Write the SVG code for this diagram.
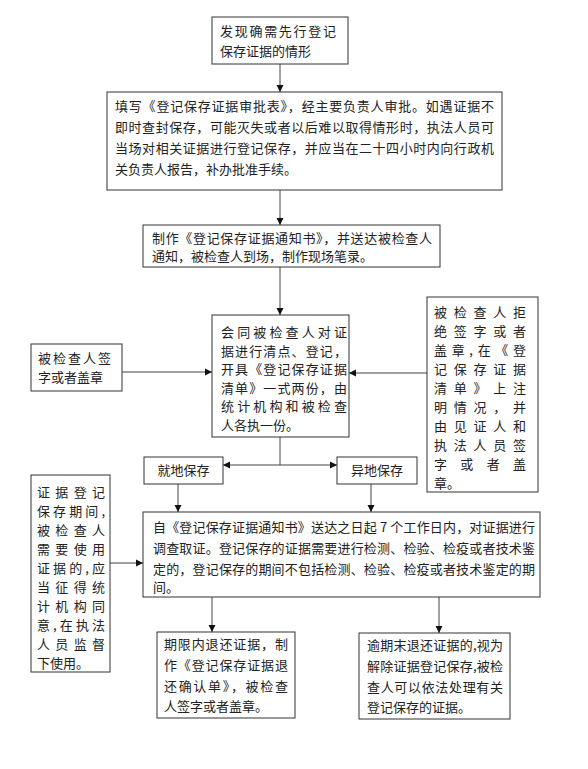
<svg xmlns="http://www.w3.org/2000/svg" width="588" height="769" viewBox="0 0 588 769">
<defs>
<marker id="ah" markerWidth="8" markerHeight="8" refX="7" refY="4" orient="auto" markerUnits="userSpaceOnUse">
<path d="M0,0.5 L7,4 L0,7.5 Z" fill="#111"/>
</marker>
<style>
.box{fill:#fff;stroke:#333;stroke-width:1}
.t{font-family:"Noto Sans CJK SC","Noto Sans",sans-serif;font-size:13px;fill:#222}
.c{stroke:#444;stroke-width:1;fill:none}
.a{stroke:#444;stroke-width:1;fill:none;marker-end:url(#ah)}
</style>
</defs>
<rect width="588" height="769" fill="#fff"/>
<g id="connectors">
<line class="a" x1="280" y1="64" x2="280" y2="92"/>
<line class="a" x1="280" y1="190" x2="280" y2="225"/>
<line class="a" x1="280" y1="267" x2="280" y2="315"/>
<line class="a" x1="122" y1="372" x2="212" y2="372"/>
<line class="a" x1="427" y1="373" x2="349" y2="373"/>
<line class="c" x1="280" y1="437" x2="280" y2="465"/>
<line class="a" x1="280" y1="465" x2="223" y2="465"/>
<line class="a" x1="280" y1="465" x2="337" y2="465"/>
<line class="a" x1="178" y1="484" x2="178" y2="512"/>
<line class="a" x1="371" y1="484" x2="371" y2="512"/>
<line class="a" x1="110" y1="563" x2="143" y2="563"/>
<line class="a" x1="212" y1="597" x2="212" y2="632"/>
<line class="a" x1="439" y1="597" x2="439" y2="633"/>
</g>
<g id="n1">
<rect class="box" x="212" y="17" width="136" height="47"/>
<text class="t" x="220" y="36" textLength="116" lengthAdjust="spacing">发现确需先行登记</text>
<text class="t" x="220" y="56">保存证据的情形</text>
</g>
<g id="n2">
<rect class="box" x="107" y="92" width="395" height="98"/>
<text class="t" x="115" y="111" textLength="379" lengthAdjust="spacing">填写《登记保存证据审批表》，经主要负责人审批。如遇证据不</text>
<text class="t" x="115" y="132" textLength="379" lengthAdjust="spacing">即时查封保存，可能灭失或者以后难以取得情形时，执法人员可</text>
<text class="t" x="115" y="153" textLength="379" lengthAdjust="spacing">当场对相关证据进行登记保存，并应当在二十四小时内向行政机</text>
<text class="t" x="115" y="174">关负责人报告，补办批准手续。</text>
</g>
<g id="n3">
<rect class="box" x="143" y="225" width="297" height="42"/>
<text class="t" x="152" y="243" textLength="280" lengthAdjust="spacing">制作《登记保存证据通知书》，并送达被检查人</text>
<text class="t" x="152" y="261">通知，被检查人到场，制作现场笔录。</text>
</g>
<g id="n4">
<rect class="box" x="212" y="315" width="137" height="122"/>
<text class="t" x="221" y="337" textLength="126" lengthAdjust="spacing">会同被检查人对证</text>
<text class="t" x="221" y="355.6" textLength="126" lengthAdjust="spacing">据进行清点、登记，</text>
<text class="t" x="221" y="374.2" textLength="126" lengthAdjust="spacing">开具《登记保存证据</text>
<text class="t" x="221" y="392.8" textLength="126" lengthAdjust="spacing">清单》一式两份，由</text>
<text class="t" x="221" y="411.4" textLength="126" lengthAdjust="spacing">统计机构和被检查</text>
<text class="t" x="221" y="430">人各执一份。</text>
</g>
<g id="n5">
<rect class="box" x="31" y="344" width="91" height="47"/>
<text class="t" x="38" y="363" textLength="73" lengthAdjust="spacing">被检查人签</text>
<text class="t" x="38" y="382">字或者盖章</text>
</g>
<g id="n6">
<rect class="box" x="427" y="297" width="111" height="195"/>
<text class="t" x="434" y="317" textLength="92" lengthAdjust="spacing">被检查人拒</text>
<text class="t" x="434" y="336" textLength="92" lengthAdjust="spacing">绝签字或者</text>
<text class="t" x="434" y="355" textLength="92" lengthAdjust="spacing">盖章,在《登</text>
<text class="t" x="434" y="374" textLength="92" lengthAdjust="spacing">记保存证据</text>
<text class="t" x="434" y="393" textLength="92" lengthAdjust="spacing">清单》上注</text>
<text class="t" x="434" y="412" textLength="92" lengthAdjust="spacing">明情况，并</text>
<text class="t" x="434" y="431" textLength="92" lengthAdjust="spacing">由见证人和</text>
<text class="t" x="434" y="450" textLength="92" lengthAdjust="spacing">执法人员签</text>
<text class="t" x="434" y="469" textLength="92" lengthAdjust="spacing">字或者盖</text>
<text class="t" x="434" y="488">章。</text>
</g>
<g id="n7">
<rect class="box" x="144" y="457" width="79" height="27"/>
<text class="t" x="183.5" y="475" text-anchor="middle">就地保存</text>
</g>
<g id="n8">
<rect class="box" x="337" y="457" width="80" height="27"/>
<text class="t" x="377" y="475" text-anchor="middle">异地保存</text>
</g>
<g id="n9">
<rect class="box" x="31" y="475" width="79" height="197"/>
<text class="t" x="37" y="497" textLength="68" lengthAdjust="spacing">证据登记</text>
<text class="t" x="37" y="516" textLength="68" lengthAdjust="spacing">保存期间,</text>
<text class="t" x="37" y="535" textLength="68" lengthAdjust="spacing">被检查人</text>
<text class="t" x="37" y="554" textLength="68" lengthAdjust="spacing">需要使用</text>
<text class="t" x="37" y="573" textLength="68" lengthAdjust="spacing">证据的,应</text>
<text class="t" x="37" y="592" textLength="68" lengthAdjust="spacing">当征得统</text>
<text class="t" x="37" y="611" textLength="68" lengthAdjust="spacing">计机构同</text>
<text class="t" x="37" y="630" textLength="68" lengthAdjust="spacing">意,在执法</text>
<text class="t" x="37" y="649" textLength="68" lengthAdjust="spacing">人员监督</text>
<text class="t" x="37" y="668">下使用。</text>
</g>
<g id="n10">
<rect class="box" x="143" y="512" width="397" height="85"/>
<text class="t" x="153" y="532" textLength="382" lengthAdjust="spacing">自《登记保存证据通知书》送达之日起 7 个工作日内，对证据进行</text>
<text class="t" x="153" y="553" textLength="382" lengthAdjust="spacing">调查取证。登记保存的证据需要进行检测、检验、检疫或者技术鉴</text>
<text class="t" x="153" y="574" textLength="382" lengthAdjust="spacing">定的，登记保存的期间不包括检测、检验、检疫或者技术鉴定的期</text>
<text class="t" x="153" y="592">间。</text>
</g>
<g id="n11">
<rect class="box" x="157" y="632" width="138" height="86"/>
<text class="t" x="164" y="649" textLength="124" lengthAdjust="spacing">期限内退还证据，制</text>
<text class="t" x="164" y="670" textLength="124" lengthAdjust="spacing">作《登记保存证据退</text>
<text class="t" x="164" y="691" textLength="124" lengthAdjust="spacing">还确认单》，被检查</text>
<text class="t" x="164" y="711">人签字或者盖章。</text>
</g>
<g id="n12">
<rect class="box" x="359" y="633" width="151" height="86"/>
<text class="t" x="367" y="650" textLength="136" lengthAdjust="spacing">逾期末退还证据的,视为</text>
<text class="t" x="367" y="671" textLength="136" lengthAdjust="spacing">解除证据登记保存,被检</text>
<text class="t" x="367" y="692" textLength="136" lengthAdjust="spacing">查人可以依法处理有关</text>
<text class="t" x="367" y="712">登记保存的证据。</text>
</g>
</svg>
